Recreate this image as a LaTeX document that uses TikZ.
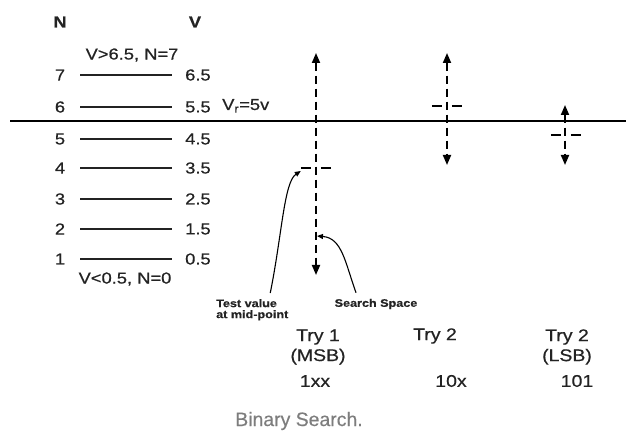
\documentclass[tikz,border=0pt]{standalone}
\usepackage{fontspec}
\setmainfont{Liberation Sans}[FakeStretch=1.15,FakeBold=0.6]
\newfontfamily\plainsans{Liberation Sans}[FakeBold=0.4]
\usepackage{tikz}
\usetikzlibrary{arrows.meta,positioning}
\definecolor{inkgray}{RGB}{35,35,35}
\definecolor{titlegray}{RGB}{125,125,125}
\tikzset{
  num/.style={inner sep=2bp,text=inkgray,font=\fontsize{16}{19}\selectfont},
  val/.style={anchor=west,inner sep=2bp,text=inkgray,font=\fontsize{16}{19}\selectfont},
  hdr/.style={inner sep=2bp,text=inkgray,font=\fontsize{16}{19}\selectfont\bfseries},
  lvl/.style={line width=1.8bp,draw=inkgray,shorten <=13bp,shorten >=11bp},
  axis/.style={line width=2bp,draw=black},
  srch/.style={{Triangle[length=10bp,width=8bp]}-{Triangle[length=10bp,width=8bp]},
    line width=1.8bp,dash pattern=on 8bp off 5bp},
  midmark/.style={minimum width=30bp,minimum height=2bp,inner sep=0pt},
  markln/.style={line width=1.6bp,dash pattern=on 10bp off 10bp},
  curv/.style={-{Triangle[length=6bp,width=5bp]},line width=1.1bp},
  note/.style={inner sep=2bp,align=left,text=inkgray,font=\fontsize{11}{11}\selectfont\bfseries},
  trylbl/.style={inner sep=2bp,align=center,text=inkgray,font=\fontsize{17}{20}\selectfont},
  ttl/.style={inner sep=2bp,text=titlegray,font=\plainsans\fontsize{19.5}{22}\selectfont}
}
\begin{document}
\begin{tikzpicture}[x=1bp,y=-1bp]
    \useasboundingbox (0,0) rectangle (626,437);

    % Headings
    \node[hdr] (hn) at (60,22) {N};
    \node[hdr] (hv) at (195,22) {V};
    \node[num] (above7) at (132,55) {V>6.5, N=7};
    \node[num] (below1) at (125,279) {V<0.5, N=0};

    % Levels
    \node[num] (n7) at (60,75) {7};
    \node[val] (v7) at (183,75) {6.5};
    \node[num] (n6) at (60,107) {6};
    \node[val] (v6) at (183,107) {5.5};
    \node[num] (n5) at (60,139) {5};
    \node[val] (v5) at (183,139) {4.5};
    \node[num] (n4) at (60,168) {4};
    \node[val] (v4) at (183,168) {3.5};
    \node[num] (n3) at (60,199) {3};
    \node[val] (v3) at (183,199) {2.5};
    \node[num] (n2) at (60,229) {2};
    \node[val] (v2) at (183,229) {1.5};
    \node[num] (n1) at (60,259) {1};
    \node[val] (v1) at (183,259) {0.5};
    \draw[lvl] (n7) -- (v7);
    \draw[lvl] (n6) -- (v6);
    \draw[lvl] (n5) -- (v5);
    \draw[lvl] (n4) -- (v4);
    \draw[lvl] (n3) -- (v3);
    \draw[lvl] (n2) -- (v2);
    \draw[lvl] (n1) -- (v1);

    % Input voltage
    \coordinate (axl) at (10,121);
    \coordinate (axr) at (626,121);
    \draw[axis] (axl) -- (axr);
    \node[num,anchor=base west] (vref) at (220,110) {V\textsubscript{r}=5v};

    % Try 1
    \coordinate (top1) at (316,53);
    \coordinate (bot1) at (316,275);
    \coordinate (sp1) at (317,236);
    \node[midmark] (mid1) at (316,168) {};
    \draw[srch] (top1) -- (bot1);
    \draw[markln] (mid1.west) -- (mid1.east);

    % Try 2
    \coordinate (top2) at (447,53);
    \coordinate (bot2) at (447,165);
    \node[midmark] (mid2) at (447,106) {};
    \draw[srch] (top2) -- (bot2);
    \draw[markln] (mid2.west) -- (mid2.east);

    % Try 3
    \coordinate (top3) at (565,105);
    \coordinate (bot3) at (565,165);
    \node[midmark] (mid3) at (566,135) {};
    \draw[srch] (top3) -- (bot3);
    \draw[markln] (mid3.west) -- (mid3.east);

    % Notes
    \node[note,anchor=north west] (testtxt) at (214,297) {Test value\\at mid-point};
    \node[note] (spacetxt) at (376,304) {Search Space};
    \draw[curv] ([xshift=18bp,yshift=4bp]testtxt.north) .. controls (282,235) and (284,182) .. ([yshift=-3bp]mid1.west);
    \draw[curv] ([xshift=-20bp,yshift=4bp]spacetxt.north) .. controls (345,262) and (342,238) .. (sp1);

    % Results
    \node[trylbl] (try1) at (318,347) {Try 1\\(MSB)};
    \node[trylbl] (try2) at (435,336) {Try 2};
    \node[trylbl] (try3) at (567,347) {Try 2\\(LSB)};
    \node[trylbl] (bits1) at (315,381) {1xx};
    \node[trylbl] (bits2) at (451,381) {10x};
    \node[trylbl] (bits3) at (577,381) {101};

    \node[ttl] (title) at (299,421) {Binary Search.};
  \end{tikzpicture}
\end{document}
